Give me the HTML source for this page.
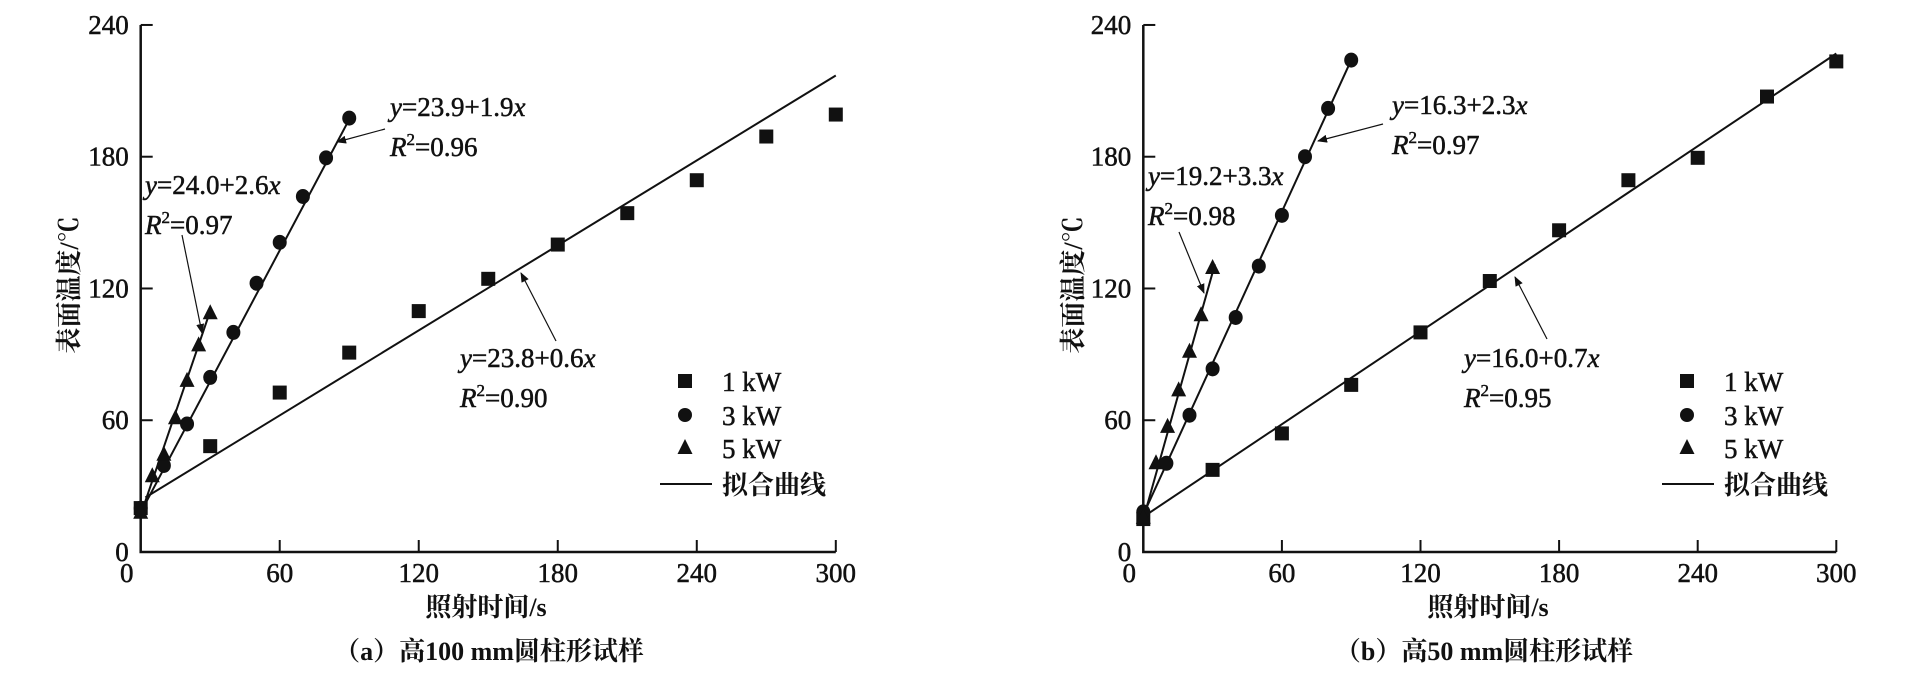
<!DOCTYPE html>
<html><head><meta charset="utf-8"><style>
html,body{margin:0;padding:0;background:#fff;}
svg{display:block;}
text{font-family:"Liberation Serif","Noto Serif CJK SC",serif;fill:#111;stroke:#111;stroke-width:0.5;}
.t{font-size:27px;}
.cn{font-family:"Liberation Serif","Noto Serif CJK SC","Noto Sans CJK SC",serif;font-size:26px;font-weight:bold;stroke-width:0;}
.an{font-size:27px;}
</style></head><body>
<svg id="s" width="1924" height="673" viewBox="0 0 1924 673" xmlns="http://www.w3.org/2000/svg">
<defs><marker id="ah" markerWidth="10" markerHeight="8" refX="9" refY="4" orient="auto" markerUnits="userSpaceOnUse"><path d="M0,0 L10,4 L0,8 z" fill="#111"/></marker></defs>
</svg>
<script>
var s=document.getElementById('s');var NS='http://www.w3.org/2000/svg';
function el(n,a,t){var e=document.createElementNS(NS,n);for(var k in a)e.setAttribute(k,a[k]);if(t!==undefined)e.textContent=t;s.appendChild(e);return e;}
function panel(ox,sx,d){
 var X=function(x){return ox+x*sx},Y=function(y){return 552-y*2.196};
 el('path',{d:'M'+ox+',25 V552 H'+X(300),stroke:'#111','stroke-width':2.5,fill:'none'});
 for(var i=0;i<=4;i++){var y=Y(i*60);el('line',{x1:ox,y1:y,x2:ox+12,y2:y,stroke:'#111','stroke-width':2});
  el('text',{x:ox-12,y:y+9,'text-anchor':'end','class':'t'},String(i*60));}
 for(var i=0;i<=5;i++){var x=X(i*60);if(i>0)el('line',{x1:x,y1:552,x2:x,y2:540,stroke:'#111','stroke-width':2});
  el('text',{x:i==0?x-14:x,y:582,'text-anchor':'middle','class':'t'},String(i*60));}
 d.lines.forEach(function(l){el('line',{x1:X(l[0]),y1:Y(l[1]),x2:X(l[2]),y2:Y(l[3]),stroke:'#111','stroke-width':2});});
 d.sq.forEach(function(p){el('rect',{x:X(p[0])-7,y:Y(p[1])-7,width:14,height:14,fill:'#111'});});
 d.ci.forEach(function(p){el('ellipse',{cx:X(p[0]),cy:Y(p[1]),rx:7,ry:7.5,fill:'#111'});});
 d.tr.forEach(function(p){var x=X(p[0]),y=Y(p[1]);el('path',{d:'M'+x+','+(y-9)+' L'+(x+7.5)+','+(y+6)+' L'+(x-7.5)+','+(y+6)+'z',fill:'#111'});});
 d.ann.forEach(function(a){
  var t=el('text',{x:a[0],y:a[1]+9,'class':'an'});
  var i1=document.createElementNS(NS,'tspan');i1.setAttribute('font-style','italic');i1.textContent='y';t.appendChild(i1);
  var m=document.createElementNS(NS,'tspan');m.textContent=a[2];t.appendChild(m);
  var i2=document.createElementNS(NS,'tspan');i2.setAttribute('font-style','italic');i2.textContent='x';t.appendChild(i2);
  var r=el('text',{x:a[0],y:a[1]+49,'class':'an'});
  var ri=document.createElementNS(NS,'tspan');ri.setAttribute('font-style','italic');ri.textContent='R';r.appendChild(ri);
  var sp=document.createElementNS(NS,'tspan');sp.setAttribute('font-size','17');sp.setAttribute('dy','-11');sp.textContent='2';r.appendChild(sp);
  var rv=document.createElementNS(NS,'tspan');rv.setAttribute('dy','11');rv.textContent='='+a[3];r.appendChild(rv);
  el('line',{x1:a[4],y1:a[5],x2:a[6],y2:a[7],stroke:'#111','stroke-width':1.2,'marker-end':'url(#ah)'});
 });
 var lx=d.lx;
 el('rect',{x:lx-7,y:374,width:14,height:14,fill:'#111'});
 el('circle',{cx:lx,cy:415,r:7,fill:'#111'});
 el('path',{d:'M'+lx+',439 L'+(lx+7.5)+',454 L'+(lx-7.5)+',454z',fill:'#111'});
 el('line',{x1:lx-25,y1:484,x2:lx+27,y2:484,stroke:'#111','stroke-width':2});
 ['1 kW','3 kW','5 kW','拟合曲线'].forEach(function(t,i){el('text',{x:lx+37,y:[381,415,448,484][i]+10,'class':i==3?'cn':'t'},t);});
 el('text',{x:0,y:0,'class':'cn','text-anchor':'middle',transform:'translate('+(d.ylx)+',285) rotate(-90)'},'表面温度/℃');
 el('text',{x:d.xlx,y:616,'class':'cn','text-anchor':'middle'},'照射时间/s');
 el('text',{x:d.cx,y:660,'class':'cn','text-anchor':'middle','font-weight':'normal'},d.cap);
}
panel(140.7,2.317,{
 lines:[[2,24.8,300,217],[2,22,91,199],[1,20,30.4,111]],
 sq:[[0,20],[30,48.2],[60,72.6],[90,90.8],[120,109.7],[150,124.4],[180,140],[210,154.3],[240,169.3],[270,189.2],[300,199.2]],
 ci:[[0,19.9],[10,39.4],[20,58.3],[30,79.5],[40,100],[50,122.4],[60,141],[70,161.9],[80,179.5],[90,197.6]],
 tr:[[0,17.9],[5,34.5],[10,44.3],[15,60.9],[20,77.9],[25,94.1],[30,108.7]],
 ann:[[390,107,'=23.9+1.9','0.96',385,129,337,142],[145,185,'=24.0+2.6','0.97',182,235,202,333],[460,358,'=23.8+0.6','0.90',556,341,521,273]],
 lx:685,ylx:78,xlx:486,cx:489,cap:'（a）高100 mm圆柱形试样'});
panel(1143.3,2.31,{
 lines:[[0,16,300,227],[0,17,90,224],[0,15,31,131]],
 sq:[[0,15],[30,37.4],[60,54],[90,76.1],[120,100],[150,123.4],[180,146.5],[210,169.3],[240,179.5],[270,207.4],[300,223.4]],
 ci:[[0,18.3],[10,40.4],[20,62.3],[30,83.4],[40,106.8],[50,130.2],[60,153.3],[70,180],[80,202],[90,224]],
 tr:[[0,15.6],[5.5,40.4],[10.5,57],[15.3,73.6],[20,91.2],[25,107.8],[30,129.3]],
 ann:[[1392,105,'=16.3+2.3','0.97',1383,124,1318,141],[1148,176,'=19.2+3.3','0.98',1179,232,1204,293],[1464,358,'=16.0+0.7','0.95',1547,339,1515,277]],
 lx:1687,ylx:1082,xlx:1488,cx:1484,cap:'（b）高50 mm圆柱形试样'});
</script>
</body></html>
